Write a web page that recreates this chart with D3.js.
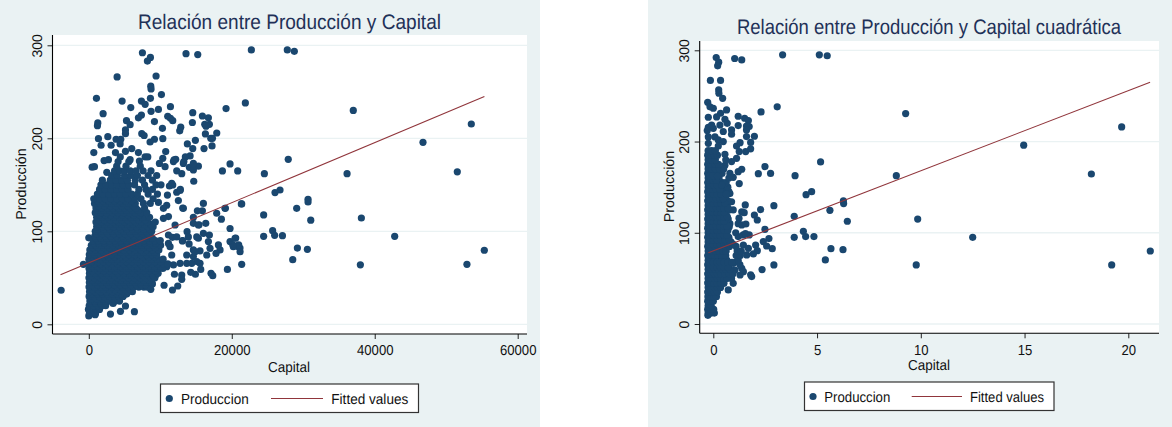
<!DOCTYPE html>
<html>
<head>
<meta charset="utf-8">
<script src="https://cdnjs.cloudflare.com/ajax/libs/d3/7.8.5/d3.min.js"></script>
<style>
  html, body { margin: 0; padding: 0; background: #fff; }
  text { font-family: "Liberation Sans", Arial, sans-serif; text-rendering: geometricPrecision; }
</style>
</head>
<body>
<div id="chart"></div>
<script>
var yTicks = [0, 100, 200, 300];
var xTicksIzq = [0, 20000, 40000, 60000];
var xTicksDer = [0, 5, 10, 15, 20];

var tituloIzq = "Relación entre Producción y Capital";
var tituloDer = "Relación entre Producción y Capital cuadrática";
var leyenda = ["Produccion", "Fitted values"];

// recta ajustada: [capital, produccion]
var rectaIzq = [[-3960, 53.3], [55340, 245]];
var rectaDer = [[-0.24, 78], [21.05, 265]];

// puntos sueltos izquierda: [capital, produccion]
var sueltosIzq = [
  [7500,292],[8620,287],[8200,283],[13600,291],[15240,290],[22740,295],[27770,295],[28750,293.5],
  [3960,266],[9410,267],[8670,256],[8710,253],[10160,247],[8620,243],[1070,243],[4660,240],[7360,240],
  [7880,236.5],[11420,234],[5870,233],[9740,231],[8710,229],[19200,232],[21900,238],[2000,226.5],
  [14540,227.6],[15890,224],[16730,222],[7360,225],[6940,222],[11040,223.6],[11420,221.5],[11740,219],
  [5270,219],[5780,214.7],[9180,218],[1260,216.5],[1210,213.6],[14490,217],[16220,215],[16870,215],
  [16400,213],[12860,212],[12720,208],[10300,210.7],[5130,209],[5130,205],[16310,204.7],[17900,205.7],
  [7410,205],[7740,203],[1350,199.6],[2660,201.8],[10350,199.6],[17060,200],[17300,200],[3820,199],[4470,199],
  [9180,199],[8570,196],[14910,197.8],[13790,194],[17240,191.8],[1720,192.5],[3120,192.5],[4380,194],
  [6010,189],[16120,189],[14540,189],[700,184.6],[3730,184.6],[6940,184.6],[10760,185.7],[5130,186],
  [7880,180],[8250,180],[14170,181],[13510,180],[5780,177],[7080,175.6],[2750,177],[2140,176],[27900,177.4],
  [19760,172.4],[12160,177.4],[11840,175],[10350,178.5],[9880,173],[13300,175],[15330,170],[14070,168.8],
  [14630,166],[18690,164.9],[20830,164.9],[24560,162],[2520,163.4],[470,169],[790,169.5],[13000,162],
  [10670,169.5],[14680,153.8],[26050,141.6],[26750,144.4],[21390,129.4],[24460,117.6],[29080,124.7],
  [19100,124.7],[17890,119.4],[16030,130],[15190,122],[15890,122],[13140,125],[12810,145],[12300,142],
  [12530,133],[11740,149.8],[11280,148.7],[11000,139],[10900,128],[10440,124.7],[9740,131],[11140,115.8],
  [10440,114],[37000,230],[53510,215.4],[46750,195.7],[36130,162],[51550,164],[30670,134.4],[30670,131.5],
  [31050,112],[38130,114.3],[42790,94.6],[27090,95.3],[29180,82],[30580,80.6],[28530,69.5],[37990,64],
  [52900,64.5],[55330,79.6],[-3870,36.6],[-750,64.5],[0,93],[24460,94.6],[25720,100.7],[26000,95.7],
  [19760,103],[20550,92.8],[19760,89],[20130,85.7],[20970,85.3],[21150,82],[21390,64.5],[19390,59],
  [17100,54.8],[17340,52.3],[14910,53.8],[14260,55.9],[15660,59],[15560,65.6],[16360,108.6],[15420,107],
  [18550,113],[12070,106.8],[11140,96],[11700,93.5],[12300,94],[13750,99.6],[13930,94],[13140,90],
  [14030,86.4],[16030,97.8],[16870,96],[15330,92.5],[16730,88.9],[18130,85.3],[18360,80],[16960,81.7],
  [17800,76.3],[16500,74.5],[14630,80],[15560,79],[13700,74.5],[14630,72.8],[15100,67.4],[11370,83.5],
  [11600,74.5],[11140,87],[9970,69],[10900,62],[11840,63.8],[12770,65.6],[13700,65.6],[14400,65.6],
  [11980,53.8],[13000,53],[13000,48.4],[12440,41.2],[11700,36.9],[10530,42],[8670,37.6],[8900,43.4],
  [9370,53],[6380,13.6],[5130,19.7],[4430,14],[3030,11],[885,10.4],[0,9],[11930,176.7],[12300,165],
  [13230,173],[14630,173],[11600,151.6],[12770,144],[13230,124.7],[14630,115],[14630,108.6],[15330,106.8],
  [19060,124.7],[21340,129.4],[20460,92.5],[20920,83.5],[21160,78],[20220,83.5],[15100,94],[13090,89.6],[14860,78]
];

// nube densa izquierda: una lista de capital por cada nivel de produccion
var nubeProdIzq = [12,16,20,22.5,25,27.5,30,32.5,35,37.5,40,42.5,45,47.5,50,52.5,55,57.5,60,62.5,65,67.5,70,72.5,75,77.5,80,82.5,85,87.5,90,92.5,95,97.5,100,102.5,105,107.5,110,112.5,115,117.5,120,122.5,125,127.5,130,132.5,135,140,145,150,155,160,165,170,175,180];
var nubeCapIzq = [
  [100,500,950],
  [-50,420,1000,1500],
  [60,700,1300,1900,2350],
  [300,1000,1700,2400,3400],
  [150,850,1600,2300,3050,3700,4300],
  [400,1150,1900,2600,3400,4000],
  [40,800,1500,2200,2950,3600,4200,4800],
  [450,1200,1900,2600,3300,4000,4600,5300],
  [100,900,1700,2500,3300,4100,4800,5500,6100],
  [500,1300,2100,2900,3700,4450,5150,5800],
  [30,850,1650,2400,3200,4000,4750,5500,6300,7000,7700,8200],
  [450,1250,2000,2800,3600,4400,5100,5900,6700,7350,7950],
  [80,900,1700,2500,3300,4100,4900,5700,6500,7300,8100,8800],
  [500,1300,2100,2900,3700,4500,5300,6100,6900,7700,8450],
  [20,800,1600,2400,3200,4000,4800,5600,6400,7200,8000,8700,9250],
  [400,1200,2000,2800,3600,4400,5200,6000,6800,7600,8400,9000],
  [90,900,1700,2500,3300,4100,4900,5700,6500,7300,8100,8900,9700],
  [500,1300,2100,2900,3700,4500,5300,6100,6900,7700,8500,9300],
  [30,800,1600,2400,3200,4000,4800,5600,6400,7200,8000,8800,9600,10350],
  [450,1200,2000,2800,3600,4400,5200,6000,6800,7600,8400,9200,10000],
  [60,850,1650,2450,3250,4050,4850,5650,6450,7250,8050,8850,9650,10450,11050],
  [400,1250,2050,2850,3650,4450,5250,6050,6850,7650,8450,9250,10050],
  [10,800,1600,2400,3200,4000,4800,5600,6400,7200,8000,8800,9600,10400],
  [450,1200,2000,2800,3600,4400,5200,6000,6800,7600,8400,9200],
  [70,850,1650,2450,3250,4050,4850,5650,6450,7250,8050,8850,9500],
  [500,1250,2050,2850,3650,4450,5250,6050,6850,7650,8450,9200],
  [150,900,1700,2500,3300,4100,4900,5700,6500,7300,8100,8900,9800],
  [550,1300,2100,2900,3700,4500,5300,6100,6900,7700,8500,9300],
  [350,1000,1800,2600,3400,4200,5000,5800,6600,7400,8200,9000,10050],
  [700,1400,2200,3000,3800,4600,5400,6200,7000,7800,8600,9400],
  [600,1300,2100,2900,3700,4500,5300,6100,6900,7700,8500,9300,10000],
  [1000,1700,2500,3300,4100,4900,5700,6500,7300,8100,8900],
  [850,1500,2300,3100,3900,4700,5500,6300,7100,7900,8600],
  [1100,1900,2700,3500,4300,5100,5900,6700,7500,8300],
  [900,1700,2500,3300,4100,4900,5700,6500,7300,8100,8800],
  [1300,2100,2900,3700,4500,5300,6100,6900,7700,8500],
  [1100,1900,2700,3500,4300,5100,5900,6700,7500,8300,9000],
  [1400,2200,3000,3800,4600,5400,6200,7000,7800,8700],
  [1000,1800,2600,3400,4200,5000,5800,6600,7400,8200,9300],
  [1400,2200,3000,3800,4600,5400,6200,7000,7900],
  [1100,1900,2700,3500,4300,5100,5900,6700,7500,8500],
  [1500,2300,3100,3900,4700,5500,6300,7100],
  [900,1700,2500,3300,4100,4900,5700,6500,7300,8100],
  [1300,2100,2900,3700,4500,5300,6100,6900],
  [1000,1800,2600,3400,4200,5000,5800,6600,7800],
  [1400,2200,3000,3800,4600,5400,6200],
  [800,1600,2400,3200,4000,4800,5600,6500,7640,8600],
  [1200,2000,2800,3600,4400,5200,6000],
  [700,1500,2300,3100,3900,4700,5500,6400,7300,9000],
  [1200,2000,2800,3600,4400,5200,6000,6800,8300,9600],
  [1500,2300,3100,3900,4700,5500,7000,8000,8900],
  [1700,2400,3200,4000,4800,5600,6400,7800,9400,10100],
  [1900,3000,3800,4600,5400,6500,7500,8900],
  [3200,4000,5000,5900,6800,8300,9500],
  [3600,4300,5000,5800,6600,7600,8700],
  [3900,5200,7200],
  [4100,5600],
  [4400]
];

// puntos sueltos derecha: [capital cuadratico, produccion]
var sueltosDer = [
  [0.14,292],[0.26,287],[0.21,283],[1.03,291],[1.37,289.5],[3.34,295],[5.11,295],[5.49,294],[-0.14,267],
  [0.35,267],[0.26,256.6],[0.27,253],[0.45,247.4],[-0.27,243],[-0.16,238],[0,236.5],[2.3,232.5],[3.08,238],
  [0.64,234.6],[0.35,231],[0.16,227],[-0.24,226.6],[1.2,227.7],[1.51,225.5],[1.69,223],[0.56,224.4],[0.67,220],
  [0.32,218],[1.2,217.5],[1.6,217],[1.73,216.4],[1.6,212.7],[-0.24,215.6],[-0.29,212],[0.88,212.7],[0.88,208],
  [0.48,211],[0,214.5],[-0.08,218],[1.98,205.8],[1.6,205.4],[1.8,199],[0.08,205],[0.24,201.8],[0.48,200],
  [0.24,195],[1.29,198.8],[1.12,195],[-0.24,205],[-0.24,198],[1.25,189],[1.56,189],[1.8,192],[0.56,186],
  [1.12,181.6],[0.88,178],[0.56,174],[5.17,177.6],[2.49,172.5],[1.37,169.6],[1.2,167],[2.17,164.8],[2.76,165],
  [3.94,162.6],[0.8,165],[0.96,160.8],[1.25,153.9],[4.74,145],[4.47,141.8],[6.27,135],[6.28,132],[2.92,129.7],
  [1.54,130.5],[2.28,125.4],[5.62,124.6],[1.37,123],[1.49,122],[0.96,125],[0.88,134],[0.8,143],[3.9,118],
  [6.46,112.6],[1.98,119.5],[2.12,114],[1.24,116],[1.2,110],[1.37,108.6],[1.57,109.6],[0.77,106.7],[2.49,103.8],
  [4.34,101.6],[4.45,95.8],[3.9,95],[4.85,95.8],[1.08,100],[1.2,95.8],[1.44,97.6],[1.73,97.6],[1.55,99],
  [2.68,93.6],[2.41,90.3],[2.57,85.5],[2.84,82.6],[2.04,86.6],[2.12,80.4],[1.93,76.8],[5.67,82.6],[6.25,81.5],
  [1.61,75.7],[1.45,86.6],[1.69,83],[5.4,70.2],[2.92,64.7],[2.35,59.6],[1.8,54],[1.85,52],[1.37,61],[1.45,57.4],
  [1.29,53.7],[1.04,59],[0.96,44.6],[0.72,37.3],[0.51,44.6],[0.32,40],[0,13.5],[-0.26,9.5],[0.96,66.5],[0.72,61],
  [1.12,68.3],[0.88,50],
  [9.27,230.6],[19.68,216],[14.96,196],[18.22,164.4],[8.82,162.6],[9.85,115],[12.5,95],[9.78,64.7],[19.2,64.7],[21.06,80]
];

// nube densa derecha
var nubeProdDer = [12,16,20,25,30,35,40,45,50,55,60,65,70,75,80,85,90,95,100,105,110,115,120,125,130,135,140,145,150,155,160,165,170,175,180,185,190,
  62.5,67.5,87.5,92.5,97.5,102.5,107.5,112.5,117.5,122.5,127.5,132.5,137.5,142.5,147.5,152.5,157.5,162.5];
var nubeCapDer = [
  [-0.25,-0.1,0.05],
  [-0.27,-0.12,0.02],
  [-0.25,-0.1],
  [-0.27,-0.13,0],
  [-0.26,-0.12,0.02,0.15],
  [-0.27,-0.1,0.05,0.2],
  [-0.25,-0.1,0.05,0.2,0.35],
  [-0.27,-0.12,0.03,0.18,0.35,0.5],
  [-0.25,-0.1,0.05,0.2,0.35,0.5,0.68],
  [-0.27,-0.1,0.05,0.2,0.35,0.55,0.75,0.95],
  [-0.25,-0.08,0.08,0.25,0.42,0.6,0.8],
  [-0.27,-0.1,0.05,0.2,0.38,0.55,0.75,1.28],
  [-0.25,-0.08,0.1,0.28,0.45,0.65,1.2],
  [-0.27,-0.1,0.05,0.22,0.4,0.6,1.1,1.3],
  [-0.25,-0.08,0.1,0.28,0.45,0.62,1.15,1.35],
  [-0.27,-0.1,0.08,0.25,0.42,0.6,0.78,1.1],
  [-0.25,-0.06,0.12,0.3,0.48,0.65,0.85],
  [-0.27,-0.1,0.05,0.22,0.4,0.58,0.75],
  [-0.25,-0.08,0.1,0.28,0.45,0.62],
  [-0.27,-0.1,0.05,0.2,0.38,0.55,0.7],
  [-0.25,-0.08,0.1,0.28,0.45,0.62,0.8],
  [-0.27,-0.1,0.05,0.22,0.4,0.58,0.72],
  [-0.25,-0.08,0.1,0.28,0.45,0.62],
  [-0.27,-0.1,0.08,0.25,0.42,0.6,0.78],
  [-0.25,-0.06,0.12,0.3,0.48,0.65],
  [-0.27,-0.1,0.05,0.22,0.4,0.58,0.7],
  [-0.25,-0.08,0.1,0.28,0.45,0.6],
  [-0.27,-0.1,0.05,0.22,0.4,0.6,0.75],
  [-0.25,-0.08,0.1,0.28,0.5,0.7],
  [-0.27,-0.1,0.08,0.25,0.45,0.62],
  [-0.25,-0.08,0.1,0.28,0.75],
  [-0.27,-0.1,0.05,0.22,0.42],
  [-0.25,-0.08,0.1,0.3,0.5],
  [-0.27,-0.1,0.08,0.25],
  [-0.25,-0.08,0.1,0.6],
  [-0.27,-0.1,0.05,0.2],
  [-0.25,-0.08,0.1],
  [-0.18,0,0.18,0.34,0.5,0.7],
  [-0.18,0,0.18,0.34,0.52,0.7,0.9],
  [-0.18,0,0.16,0.33,0.5,0.7,0.95],
  [-0.18,0,0.18,0.36,0.55,0.75],
  [-0.18,-0.02,0.15,0.32,0.5,0.66],
  [-0.18,0,0.18,0.36,0.52,0.7],
  [-0.18,-0.02,0.15,0.32,0.5,0.66],
  [-0.18,0,0.18,0.36,0.52],
  [-0.18,-0.02,0.15,0.32,0.5,0.68],
  [-0.18,0,0.18,0.36,0.52],
  [-0.18,-0.02,0.15,0.32,0.5,0.7],
  [-0.18,0,0.18,0.36,0.55],
  [-0.18,-0.02,0.15,0.32,0.48],
  [-0.18,0,0.18,0.36,0.62],
  [-0.18,-0.02,0.15,0.32],
  [-0.18,0,0.18,0.4],
  [-0.18,-0.02,0.15],
  [-0.18,0,0.2]
];

var width = 1172, height = 427;

var colorFondo = "#eaf2f3", colorPunto = "#1a476f", colorRecta = "#90353b", colorTitulo = "#1f3158";

var svg = d3.select("#chart").append("svg")
    .attr("width", width)
    .attr("height", height)
    .style("display", "block");

function juntarPuntos(sueltos, nubeProd, nubeCap) {
  var puntos = sueltos.slice();
  nubeProd.forEach(function(p, i) {
    nubeCap[i].forEach(function(c) { puntos.push([c, p]); });
  });
  return puntos;
}

function dibujarPanel(cfg) {
  var g = svg.append("g");

  g.append("rect")
    .attr("x", cfg.panel[0]).attr("y", 0)
    .attr("width", cfg.panel[1] - cfg.panel[0]).attr("height", height)
    .attr("fill", colorFondo);

  g.append("rect")
    .attr("x", cfg.plot.left).attr("y", cfg.plot.top)
    .attr("width", cfg.plot.right - cfg.plot.left).attr("height", cfg.plot.bottom - cfg.plot.top)
    .attr("fill", "white");

  var x = d3.scaleLinear().domain(cfg.xDom).range(cfg.xRange);
  var y = d3.scaleLinear().domain([0, 300]).range(cfg.yRange);

  // rejilla
  g.selectAll("line.grid").data(yTicks).enter().append("line")
    .attr("class", "grid")
    .attr("x1", cfg.plot.left).attr("x2", cfg.plot.right)
    .attr("y1", function(d) { return y(d); })
    .attr("y2", function(d) { return y(d); })
    .attr("stroke", colorFondo)
    .attr("stroke-width", 1.3);

  g.selectAll("circle.dot").data(cfg.puntos).enter().append("circle")
    .attr("class", "dot")
    .attr("cx", function(d) { return x(d[0]); })
    .attr("cy", function(d) { return y(d[1]); })
    .attr("r", 3.6)
    .attr("fill", colorPunto);

  var linea = d3.line()
    .x(function(d) { return x(d[0]); })
    .y(function(d) { return y(d[1]); });

  g.append("path")
    .attr("d", linea(cfg.recta))
    .attr("fill", "none")
    .attr("stroke", colorRecta)
    .attr("stroke-width", 1.1);

  // ejes
  var ejeX = g.append("g")
    .attr("transform", "translate(0," + cfg.plot.bottom + ")")
    .call(d3.axisBottom(x).tickValues(cfg.xTicks).tickSize(5).tickPadding(6).tickFormat(d3.format("d")));
  ejeX.select(".domain").remove();
  ejeX.append("line")
    .attr("x1", cfg.plot.left).attr("x2", cfg.plot.right)
    .attr("stroke", "black").attr("stroke-width", 1.1);
  ejeX.selectAll(".tick line").attr("stroke", "#222");
  ejeX.selectAll(".tick text")
    .attr("font-size", 14.5)
    .attr("font-family", "Liberation Sans")
    .attr("fill", "#111")
    .attr("lengthAdjust", "spacingAndGlyphs")
    .attr("textLength", function(d) { return String(d).length * 7.3; });

  var ejeY = g.append("g")
    .attr("transform", "translate(" + cfg.plot.left + ",0)")
    .call(d3.axisLeft(y).tickValues(yTicks).tickSize(5).tickFormat(d3.format("d")));
  ejeY.select(".domain").remove();
  ejeY.append("line")
    .attr("y1", cfg.plot.top).attr("y2", cfg.plot.bottom)
    .attr("stroke", "black").attr("stroke-width", 1.1);
  ejeY.selectAll(".tick line").attr("stroke", "#222");
  ejeY.selectAll(".tick text")
    .attr("transform", function() { return "translate(" + cfg.yLabelX + ",0) rotate(-90)"; })
    .attr("x", 0).attr("y", 0).attr("dy", 0)
    .attr("text-anchor", "middle")
    .attr("font-size", 14)
    .attr("font-family", "Liberation Sans")
    .attr("fill", "#111");

  // textos
  g.append("text")
    .attr("x", cfg.title.x).attr("y", cfg.title.y)
    .attr("text-anchor", "middle")
    .attr("font-size", 21)
    .attr("textLength", cfg.title.len)
    .attr("lengthAdjust", "spacingAndGlyphs")
    .attr("fill", colorTitulo)
    .text(cfg.title.text);

  g.append("text")
    .attr("x", cfg.xTitle[0]).attr("y", cfg.xTitle[1])
    .attr("text-anchor", "middle")
    .attr("font-size", 14.5)
    .attr("textLength", 42)
    .attr("lengthAdjust", "spacingAndGlyphs")
    .attr("fill", "#111")
    .text("Capital");

  g.append("text")
    .attr("transform", "translate(" + cfg.yTitle[0] + "," + cfg.yTitle[1] + ") rotate(-90)")
    .attr("text-anchor", "middle")
    .attr("font-size", 14.3)
    .attr("fill", "#111")
    .text("Producción");

  // leyenda
  var ley = cfg.leyenda;
  g.append("rect")
    .attr("x", ley.x).attr("y", ley.y)
    .attr("width", ley.w).attr("height", ley.h)
    .attr("fill", "white")
    .attr("stroke", "#333")
    .attr("stroke-width", 1.2);
  g.append("circle")
    .attr("cx", ley.marker).attr("cy", ley.y + 14.5)
    .attr("r", 3.6)
    .attr("fill", colorPunto);
  g.append("text")
    .attr("x", ley.t1[0]).attr("y", ley.y + 19.8)
    .attr("font-size", 14.5)
    .attr("textLength", ley.t1[1])
    .attr("lengthAdjust", "spacingAndGlyphs")
    .attr("fill", "#111")
    .text(leyenda[0]);
  g.append("line")
    .attr("x1", ley.line[0]).attr("x2", ley.line[1])
    .attr("y1", ley.y + 14.5).attr("y2", ley.y + 14.5)
    .attr("stroke", colorRecta)
    .attr("stroke-width", 1.1);
  g.append("text")
    .attr("x", ley.t2[0]).attr("y", ley.y + 19.8)
    .attr("font-size", 14.5)
    .attr("textLength", ley.t2[1])
    .attr("lengthAdjust", "spacingAndGlyphs")
    .attr("fill", "#111")
    .text(leyenda[1]);
}

dibujarPanel({
  panel: [0, 540],
  plot: { left: 52.5, right: 527, top: 35, bottom: 334 },
  xDom: [0, 60000], xRange: [88.8, 517.7],
  yRange: [324.3, 45.3],
  xTicks: xTicksIzq,
  puntos: juntarPuntos(sueltosIzq, nubeProdIzq, nubeCapIzq),
  recta: rectaIzq,
  yLabelX: -11,
  title: { text: tituloIzq, x: 289.5, y: 29, len: 303 },
  xTitle: [289, 372],
  yTitle: [26, 184],
  leyenda: { x: 160.5, y: 384, w: 258, h: 28.5, marker: 169.3, t1: [181, 67.7], line: [271, 323], t2: [331.3, 77] }
});

dibujarPanel({
  panel: [648, 1172],
  plot: { left: 699.7, right: 1159, top: 41, bottom: 333.3 },
  xDom: [0, 20], xRange: [713.3, 1128.3],
  yRange: [324, 50.3],
  xTicks: xTicksDer,
  puntos: juntarPuntos(sueltosDer, nubeProdDer, nubeCapDer),
  recta: rectaDer,
  yLabelX: -11,
  title: { text: tituloDer, x: 929, y: 33.5, len: 384 },
  xTitle: [929, 370],
  yTitle: [674, 186.5],
  leyenda: { x: 804.5, y: 382, w: 249.5, h: 28.5, marker: 813, t1: [824.3, 66], line: [911.7, 962], t2: [970, 74] }
});
</script>
</body>
</html>
